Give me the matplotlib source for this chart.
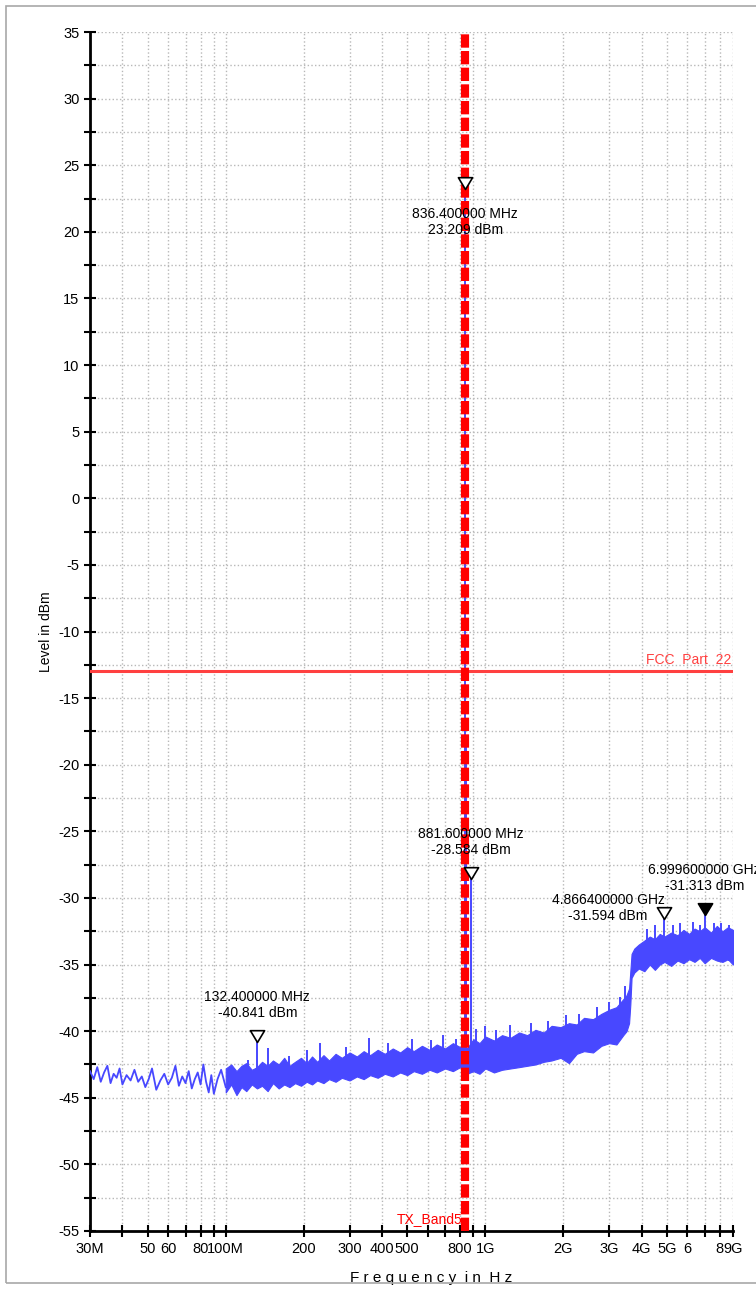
import numpy as np
import matplotlib
matplotlib.use("Agg")
import matplotlib.pyplot as plt
from matplotlib.path import Path
from matplotlib.patches import Rectangle
from matplotlib.ticker import FixedLocator, FixedFormatter

plt.rcParams['font.family'] = ['Liberation Sans', 'DejaVu Sans']
plt.rcParams['axes.unicode_minus'] = False

# Low frequency trace (MHz, dBm)
low_f = [30, 31, 32, 33, 34, 35, 36, 37, 38, 39, 40, 41.5, 43, 44.5, 46, 47.5, 49, 50.5,
         52, 54, 56, 58, 60, 62, 64, 66, 68, 70, 72, 74, 76, 78, 80, 82, 84, 86, 88, 90,
         93, 96, 100]
low_lvl = [-43.0, -43.6, -42.7, -43.8, -43.1, -42.6, -43.9, -43.2, -43.5, -42.8, -44.0,
           -43.3, -43.7, -42.9, -43.8, -43.4, -44.2, -43.6, -42.8, -44.4, -43.7, -43.2,
           -44.0, -43.5, -42.6, -44.1, -43.4, -43.9, -43.0, -44.3, -43.6, -43.1, -44.0,
           -42.5, -43.8, -44.6, -43.3, -44.7, -43.6, -42.9, -44.2]

# Dense part of the trace: upper / lower envelope (MHz, dBm)
band_f = [100, 105, 110, 115, 120, 126, 132, 138, 145, 152, 160, 168, 176, 185, 195, 205,
          215, 225, 238, 250, 265, 280, 300, 320, 340, 360, 385, 410, 440, 470, 500, 530,
          570, 610, 650, 700, 750, 800, 830, 850, 900, 950, 1000, 1080, 1160, 1250, 1350,
          1450, 1560, 1680, 1800, 1950, 2100, 2250, 2400, 2600, 2800, 3000, 3200, 3400,
          3500, 3580, 3620, 3660, 3750, 3900, 4100, 4300, 4500, 4700, 4900, 5200, 5500,
          5800, 6100, 6400, 6700, 7000, 7400, 7800, 8200, 8600, 9000]
band_hi = [-42.8, -42.5, -43.0, -42.6, -42.4, -42.9, -42.7, -42.3, -42.6, -42.2, -42.5,
           -42.0, -42.6, -42.3, -42.0, -42.4, -41.9, -42.3, -41.8, -42.2, -41.7, -42.0,
           -41.6, -41.9, -41.5, -41.8, -41.4, -41.7, -41.3, -41.6, -41.2, -41.5, -41.1,
           -41.4, -41.0, -41.3, -40.9, -41.2, -41.0, -41.3, -40.6, -40.9, -40.4, -40.7,
           -40.3, -40.5, -40.1, -40.3, -39.9, -40.1, -39.6, -39.7, -39.4, -39.5, -39.0,
           -39.1, -38.7, -38.4, -38.2, -37.6, -37.3, -36.8, -35.5, -34.2, -33.8, -33.5,
           -33.2, -32.9, -33.1, -32.7, -32.9, -32.6, -32.8, -32.4, -32.7, -32.3, -32.5,
           -32.2, -32.6, -32.1, -32.5, -32.2, -32.4]
band_lo = [-44.6, -44.0, -44.8, -44.2, -44.5, -44.0, -44.3, -44.1, -44.5, -43.9, -44.3,
           -44.0, -44.2, -43.9, -44.1, -43.8, -44.0, -43.7, -43.9, -43.6, -43.8, -43.5,
           -43.7, -43.4, -43.6, -43.3, -43.5, -43.2, -43.4, -43.1, -43.3, -43.0, -43.2,
           -42.9, -43.1, -42.8, -43.0, -42.7, -42.9, -43.2, -43.0, -43.2, -42.8, -43.1,
           -42.9, -42.8, -42.7, -42.6, -42.5, -42.3, -42.2, -42.0, -42.4, -41.7, -41.5,
           -41.6, -41.1, -40.9, -41.0, -40.3, -40.0, -39.4, -38.0, -36.0, -35.6, -35.3,
           -35.5, -35.0, -35.4, -35.0, -34.8, -35.1, -34.7, -34.9, -34.6, -34.8, -34.5,
           -34.9, -34.5, -34.7, -34.8, -34.6, -35.0]

# Single spikes above the floor (MHz, peak dBm, floor dBm)
spike_f = [122, 132.4, 145.6, 175, 206, 231, 290, 357, 420, 520, 620, 689, 770, 836.4,
           840, 881.6, 920, 1000, 1100, 1250, 1500, 1750, 2050, 2300, 2700, 3000, 3300,
           3450, 4200, 4500, 4866.4, 5300, 5600, 6300, 6700, 6999.6, 7600, 8100, 8700]
spike_lvl = [-42.2, -40.841, -41.3, -41.9, -41.4, -40.9, -41.2, -40.5, -40.9, -40.6, -40.7,
             -40.3, -40.6, 23.209, -17.8, -28.584, -39.8, -39.6, -39.9, -39.5, -39.4,
             -39.2, -38.8, -38.7, -38.2, -37.8, -37.4, -36.6, -32.3, -32.0, -31.594,
             -32.0, -31.9, -31.8, -32.0, -31.313, -31.9, -31.9, -32.0]
spike_base = [-44.0, -43.8, -44.0, -43.9, -43.7, -43.6, -43.4, -43.3, -43.1, -43.0, -42.8,
              -42.8, -42.7, -42.9, -42.9, -43.0, -42.8, -42.8, -42.7, -42.6, -42.3, -42.0,
              -41.8, -41.5, -41.0, -40.7, -40.1, -39.9, -35.0, -34.9, -34.8, -34.8, -34.7,
              -34.6, -34.5, -34.6, -34.6, -34.7, -34.7]

# Markers
mk_f = [836.4, 881.6, 132.4, 4866.4, 6999.6]
mk_lvl = [23.209, -28.584, -40.841, -31.594, -31.313]
mk_txt = ["836.400000 MHz\n23.209 dBm", "881.600000 MHz\n-28.584 dBm",
          "132.400000 MHz\n-40.841 dBm", "4.866400000 GHz\n-31.594 dBm",
          "6.999600000 GHz\n-31.313 dBm"]
mk_offset = [(0, -13), (0, 16), (0, 16), (-40, -3), (0, 16)]
mk_va = ["top", "bottom", "bottom", "bottom", "bottom"]
mk_filled = [False, False, False, False, True]

limit_lvl = -13
band_edges = [824, 849]

tick_f = [30, 40, 50, 60, 70, 80, 90, 100, 200, 300, 400, 500, 600, 700, 800, 900,
          1000, 2000, 3000, 4000, 5000, 6000, 7000, 8000, 9000]
tick_lbl = ["30M", "", "50", "60", "", "80", "", "100M", "200", "300", "400", "500", "",
            "", "800", "", "1G", "2G", "3G", "4G", "5G", "6", "", "8", "9G"]

fig = plt.figure(figsize=(7.56, 12.89), dpi=100)
fig.patches.append(Rectangle((6 / 756, 6 / 1289), 1.0, 1277 / 1289, transform=fig.transFigure,
                             fill=False, edgecolor="#a8a8a8", linewidth=1.2))
ax = fig.add_axes([90 / 756, 58 / 1289, 643 / 756, 1199 / 1289])

blue = "#4848ff"
fhz = lambda v: np.asarray(v, dtype=float) * 1e6

ax.plot(fhz(low_f), low_lvl, color=blue, lw=1.3, zorder=3)
ax.fill_between(fhz(band_f), band_lo, band_hi, color=blue, lw=0.8, edgecolor=blue, zorder=3)
ax.vlines(fhz(spike_f), spike_base, spike_lvl, color=blue, lw=1.4, zorder=3)

# limit line and band
ax.axhline(limit_lvl, color="#ff4040", lw=2.2, zorder=4)
ax.text(8.9e9, limit_lvl + 0.35, "FCC  Part  22", color="#ff4040", fontsize=10,
        ha="right", va="bottom", zorder=5)
for bf in band_edges:
    ax.axvline(bf * 1e6, color="#ff0000", lw=3.0, dashes=(3.2, 0.8), zorder=4)
ax.text(band_edges[0] * 1e6 * 0.99, -54.6, "TX_Band5", color="#ff0000", fontsize=10,
        ha="right", va="bottom", zorder=5)

tri = Path([(-0.6, 1.0), (0.6, 1.0), (0.0, 0.0), (-0.6, 1.0)],
           [Path.MOVETO, Path.LINETO, Path.LINETO, Path.CLOSEPOLY])
for f, l, t, off, va, filled in zip(mk_f, mk_lvl, mk_txt, mk_offset, mk_va, mk_filled):
    ax.plot([f * 1e6], [l], marker=tri, markersize=17, markeredgewidth=1.2,
            markeredgecolor="black", markerfacecolor="black" if filled else "white",
            linestyle="none", zorder=6, clip_on=False)
    ax.annotate(t, (f * 1e6, l), xytext=off, textcoords="offset points",
                ha="center", va=va, fontsize=10, linespacing=1.2, zorder=7,
                annotation_clip=False)

ax.set_xscale("log")
ax.set_xlim(30e6, 9e9)
ax.set_ylim(-55, 35)
ax.xaxis.set_major_locator(FixedLocator(fhz(tick_f)))
ax.xaxis.set_major_formatter(FixedFormatter(tick_lbl))
ax.xaxis.set_minor_locator(FixedLocator([]))
ax.set_yticks(np.arange(-55, 36, 5))
ax.set_yticks(np.arange(-52.5, 35, 5), minor=True)
ax.tick_params(axis="both", which="both", direction="inout", length=8, width=1.5,
               labelsize=10.5, colors="black")
ax.tick_params(axis="x", pad=4)
ax.grid(True, which="both", color="#b8b8b8", linestyle=":", linewidth=1.0)
for s in ("top", "right"):
    ax.spines[s].set_visible(False)
for s in ("left", "bottom"):
    ax.spines[s].set_linewidth(2)
ax.set_axisbelow(True)

ax.set_ylabel("Level in dBm", fontsize=10)
ax.yaxis.set_label_coords(-0.058, 0.5)
ax.set_xlabel("F r e q u e n c y  i n  H z", fontsize=11, labelpad=11)
ax.xaxis.set_label_coords(0.53, -0.033)

fig.savefig("out.png", dpi=100)
